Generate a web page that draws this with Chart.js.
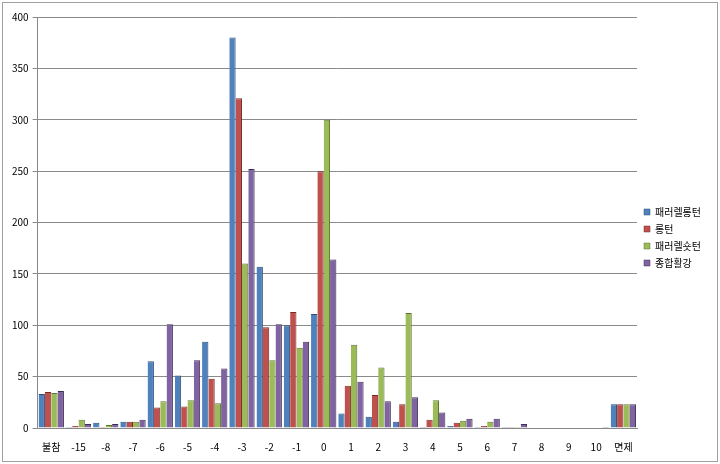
<!DOCTYPE html>
<html>
<head>
<meta charset="utf-8">
<script src="https://cdn.jsdelivr.net/npm/chart.js@4/dist/chart.umd.min.js"></script>
<style>
  html, body { margin: 0; padding: 0; background: #fff; }
  #wrap { width: 720px; height: 464px; position: relative; }
</style>
</head>
<body>
<div id="wrap"><canvas id="chart" width="720" height="464"></canvas></div>
<script>
  "use strict";

  // categories (x axis)
  const categories = ["불참", "-15", "-8", "-7", "-6", "-5", "-4", "-3", "-2", "-1", "0",
                      "1", "2", "3", "4", "5", "6", "7", "8", "9", "10", "면제"];

  // series values
  const parallelLong  = [33, 1, 5, 6, 65, 51, 84, 380, 157, 100, 111, 14, 11, 6, 1, 2, 1, 1, 0, 0, 0, 23];
  const longTurn      = [35, 2, 1, 6, 20, 21, 48, 321, 98, 113, 250, 41, 32, 23, 8, 5, 2, 1, 0, 0, 0, 23];
  const parallelShort = [34, 8, 3, 6, 26, 27, 24, 160, 66, 78, 300, 81, 59, 112, 27, 7, 6, 1, 0, 0, 0, 23];
  const overall       = [36, 4, 4, 8, 101, 66, 58, 252, 101, 84, 164, 45, 26, 30, 15, 9, 9, 4, 0, 0, 1, 23];

  const seriesNames = ["패러렐롱턴", "롱턴", "패러렐숏턴", "종합활강"];
  const yTicks = { min: 0, max: 400, step: 50 };

  const FONT = "'Noto Sans CJK KR', 'Noto Sans', sans-serif";

  function _dataset(label, data, fill, edge) {
    return {
      label: label,
      data: data,
      backgroundColor: fill,
      borderColor: edge,
      borderWidth: { top: 1, right: 1, left: 0, bottom: 0 },
      borderSkipped: false,
      categoryPercentage: 0.93,
      barPercentage: 1.0,
    };
  }

  /* ------------------------------------------------------------------
   * Outer frame around the whole chart
   * ------------------------------------------------------------------ */
  const framePlugin = {
    id: "frame",
    afterDraw: function (chart) {
      const ctx = chart.ctx;
      ctx.save();
      ctx.strokeStyle = "#a0a0a0";
      ctx.lineWidth = 1;
      ctx.strokeRect(2.5, 2.5, chart.width - 5, chart.height - 5);
      ctx.restore();
    },
  };

  new Chart(document.getElementById("chart").getContext("2d"), {
    type: "bar",
    data: {
      labels: categories,
      datasets: [
        _dataset(seriesNames[0], parallelLong,  "#4F81BD", "#2c4d75"),
        _dataset(seriesNames[1], longTurn,      "#C0504D", "#772c2a"),
        _dataset(seriesNames[2], parallelShort, "#9BBB59", "#5f7530"),
        _dataset(seriesNames[3], overall,       "#8064A2", "#3f2f55"),
      ],
    },
    options: {
      responsive: false,
      animation: false,
      layout: { padding: { left: 8, right: 9, top: 17, bottom: 6 } },
      plugins: {
        legend: {
          position: "right",
          align: "center",
          labels: {
            boxWidth: 6,
            boxHeight: 6,
            padding: 7,
            color: "#000",
            font: { family: FONT, size: 10 },
          },
        },
        tooltip: { enabled: false },
      },
      scales: {
        x: {
          grid: { display: false, drawTicks: true },
          border: { color: "#888" },
          ticks: { color: "#000", font: { family: FONT, size: 10 }, maxRotation: 0, autoSkip: false, padding: 5 },
        },
        y: {
          min: yTicks.min,
          max: yTicks.max,
          ticks: { stepSize: yTicks.step, color: "#000", font: { family: FONT, size: 10 }, padding: 4 },
          grid: { color: "#8a8a8a", lineWidth: 1, tickLength: 5 },
          border: { color: "#888" },
        },
      },
    },
    plugins: [framePlugin],
  });
</script>
</body>
</html>
